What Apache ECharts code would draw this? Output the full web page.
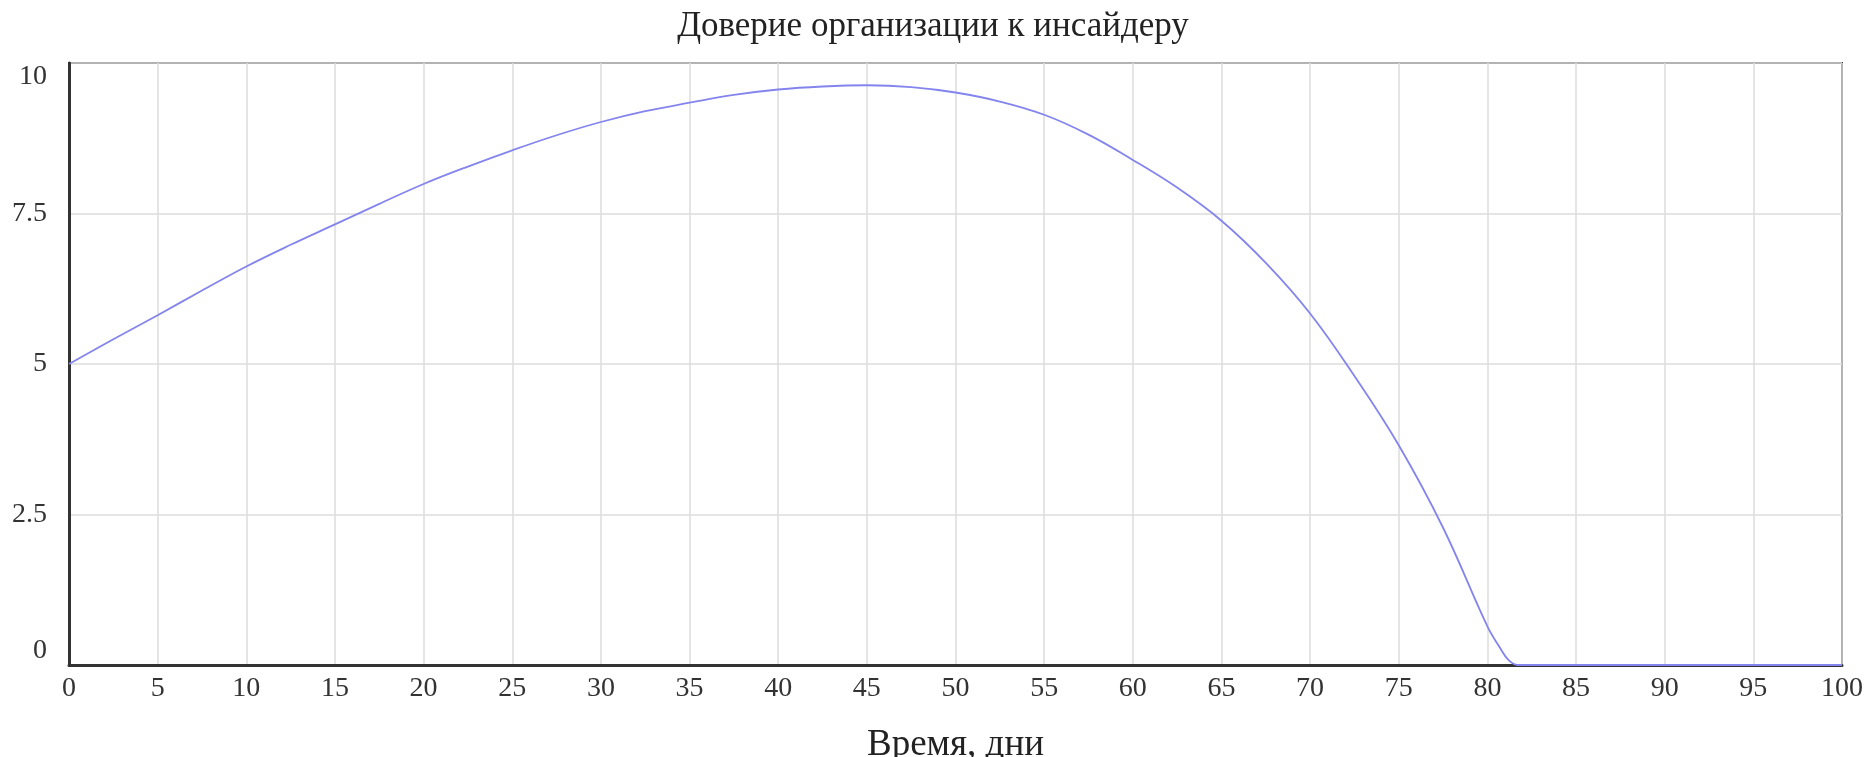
<!DOCTYPE html>
<html>
<head>
<meta charset="utf-8">
<title>Доверие организации к инсайдеру</title>
<script src="https://cdn.jsdelivr.net/npm/echarts@6/dist/echarts.min.js"></script>
<style>
  html, body { margin: 0; padding: 0; background: #fff; }
  #chart { width: 1866px; height: 757px; }
</style>
</head>
<body>
<div id="chart"></div>
<script>
// время, дни
const days = [0, 2.5, 5, 7.5, 10, 12.5, 15, 17.5, 20, 22.5, 25, 27.5, 30, 32.5, 35, 37.5, 40, 42.5, 45, 47.5,
  50, 52.5, 55, 57.5, 60, 62.5, 65, 67.5, 70, 72.5, 75, 77.5, 80, 80.7, 81.2, 81.7, 85, 90, 95, 100];
// доверие организации к инсайдеру
const trust = [5.0, 5.41, 5.81, 6.22, 6.62, 6.98, 7.32, 7.66, 7.99, 8.28, 8.55, 8.80, 9.02, 9.20, 9.34, 9.47, 9.56, 9.61, 9.63, 9.60,
  9.51, 9.36, 9.14, 8.81, 8.39, 7.93, 7.38, 6.68, 5.84, 4.80, 3.65, 2.28, 0.64, 0.29, 0.08, 0, 0, 0, 0, 0];

const titleText = "Доверие организации к инсайдеру";
const xName = "Время, дни";

const font = "'Liberation Serif', 'DejaVu Serif', serif";

const chart = echarts.init(document.getElementById("chart"));

chart.setOption({
  animation: false,
  backgroundColor: "#fff",
  title: {
    text: titleText,
    left: "center",
    top: 4,
    textStyle: {
      fontFamily: font,
      fontWeight: "normal",
      fontSize: 35,
      color: "#222"
    }
  },
  grid: {
    left: 69,
    right: 24,
    top: 63,
    bottom: 92,
    outerBoundsMode: "none",
    show: true,
    borderColor: "#3a3a3a",
    borderWidth: 2
  },
  xAxis: {
    type: "value",
    min: 0,
    max: 100,
    interval: 5,
    name: xName,
    nameLocation: "middle",
    nameGap: 62,
    nameTextStyle: {
      fontFamily: font,
      fontSize: 37,
      color: "#222"
    },
    axisLine: { lineStyle: { color: "#333", width: 3 } },
    axisTick: { show: false },
    axisLabel: {
      fontFamily: font,
      fontSize: 28,
      color: "#333",
      margin: 10
    },
    splitLine: { lineStyle: { color: "#dcdcdc", width: 1.5 } }
  },
  yAxis: {
    type: "value",
    min: 0,
    max: 10,
    interval: 2.5,
    axisLine: { show: true, lineStyle: { color: "#333", width: 3 } },
    axisTick: { show: false },
    axisLabel: {
      fontFamily: font,
      fontSize: 28,
      color: "#333",
      margin: 22,
      verticalAlignMinLabel: "bottom",
      verticalAlignMaxLabel: "top"
    },
    splitLine: { lineStyle: { color: "#dcdcdc", width: 1.5 } }
  },
  series: [
    {
      name: titleText,
      type: "line",
      data: days.map((d, i) => [d, trust[i]]),
      showSymbol: false,
      smooth: 0.4,
      smoothConstraint: false,
      lineStyle: { color: "#8484ee", width: 1.8 },
      z: 5
    }
  ]
});
</script>
</body>
</html>
